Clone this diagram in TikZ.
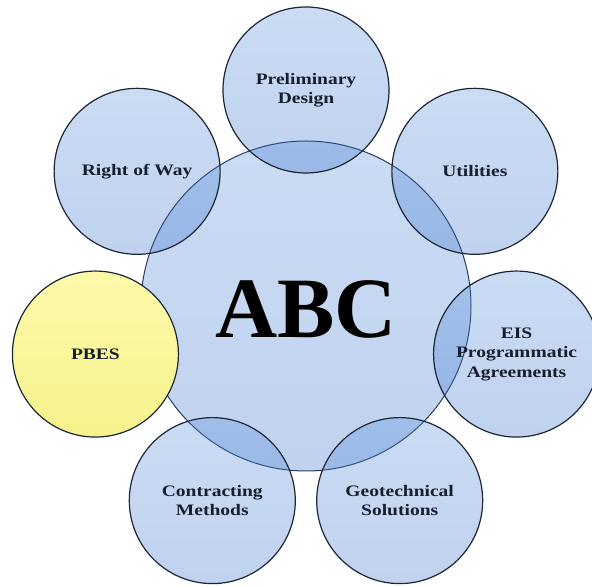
\documentclass[tikz,border=0pt]{standalone}
\usepackage{fontspec}
\usetikzlibrary{calc}
\setmainfont{Liberation Serif}
\newfontfamily\labelfont[FakeStretch=1.22]{Liberation Serif}
\definecolor{bluetop}{RGB}{80,140,218}
\definecolor{bluebot}{RGB}{45,105,200}
\definecolor{satline}{RGB}{28,38,54}
\definecolor{hubline}{RGB}{40,60,95}
\definecolor{labeltext}{RGB}{22,30,48}
\definecolor{yeltop}{RGB}{252,250,170}
\definecolor{yelbot}{RGB}{246,242,140}
\tikzset{
  base/.style={circle, inner sep=0pt, line width=1.2pt, text opacity=1, align=center},
  sat/.style={base, minimum size=166pt, draw=satline, top color=bluetop, bottom color=bluebot,
    fill opacity=0.3, text=labeltext, font=\labelfont\bfseries\fontsize{16}{19.5}\selectfont},
  hub/.style={base, minimum size=330pt, draw=hubline, line width=1pt, top color=bluetop, bottom color=bluebot,
    fill opacity=0.3},
  pbes/.style={sat, top color=yeltop, bottom color=yelbot, fill opacity=1}
}
\begin{document}
\begin{tikzpicture}[x=1pt,y=1pt]
\useasboundingbox (0,0) rectangle (592,586);
\begin{scope}
\clip (0,0) rectangle (592,586);
\coordinate (c) at (306,280);
\node[hub] (abc) at (c) {};
\node[sat] (pd) at ($(c)+(90:216)$) {Preliminary\\Design};
\node[sat] (row) at ($(c)+(141.43:216)$) {Right of Way};
\node[pbes] (pb) at ($(c)+(192.86:216)$) {PBES};
\node[sat] (cm) at ($(c)+(244.29:216)$) {Contracting\\Methods};
\node[sat] (gs) at ($(c)+(295.71:216)$) {Geotechnical\\Solutions};
\node[sat] (eis) at ($(c)+(347.14:216)$) {EIS\\Programmatic\\Agreements};
\node[sat] (ut) at ($(c)+(38.57:216)$) {Utilities};
\node[font=\bfseries\fontsize{86}{90}\selectfont, inner sep=0pt] (abctext) at ([yshift=-3pt]abc.center) {ABC};
\end{scope}
\end{tikzpicture}
\end{document}
